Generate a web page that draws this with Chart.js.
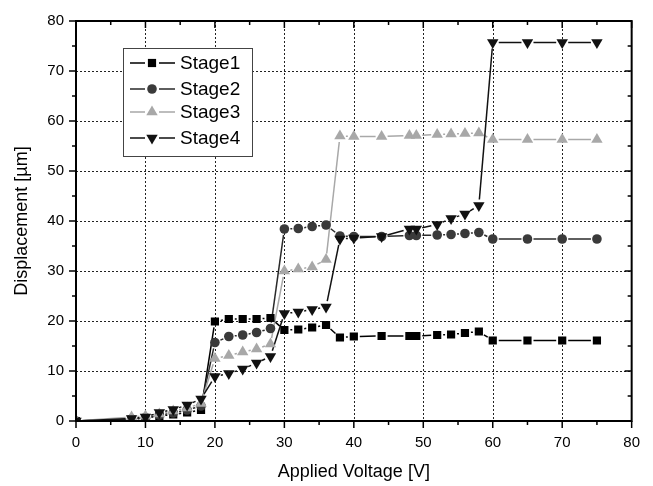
<!DOCTYPE html>
<html>
<head>
<meta charset="utf-8">
<script src="https://cdn.jsdelivr.net/npm/chart.js@4.4.1/dist/chart.umd.min.js"></script>
<style>
  html, body { margin: 0; padding: 0; background: #fff; }
  #wrap { width: 653px; height: 486px; }
</style>
</head>
<body>
<div id="wrap"><canvas id="c"></canvas></div>
<script>
// values
const voltages = [0, 8, 10, 12, 14, 16, 18, 20, 22, 24, 26, 28, 30, 32, 34, 36, 38, 40, 44, 48, 49, 52, 54, 56, 58, 60, 65, 70, 75];
const stage1 = [0, 0.3, 0.6, 1.0, 1.3, 1.7, 2.2, 19.9, 20.4, 20.4, 20.4, 20.6, 18.2, 18.3, 18.7, 19.2, 16.7, 16.9, 17.0, 17.0, 17.0, 17.2, 17.3, 17.6, 17.9, 16.1, 16.1, 16.1, 16.1];
const stage2 = [0, 0.4, 0.7, 1.2, 1.6, 2.2, 3.0, 15.7, 16.9, 17.2, 17.7, 18.5, 38.4, 38.5, 38.9, 39.2, 37.0, 36.9, 36.9, 37.1, 37.1, 37.2, 37.3, 37.5, 37.7, 36.4, 36.4, 36.4, 36.4];
const stage3 = [0, 0.8, 1.0, 1.4, 2.0, 2.6, 3.5, 12.5, 13.1, 13.8, 14.4, 15.4, 30.0, 30.4, 30.8, 32.3, 57.0, 56.9, 56.9, 57.1, 57.1, 57.3, 57.4, 57.5, 57.6, 56.3, 56.3, 56.3, 56.3];
const stage4 = [0, 0.5, 0.8, 1.7, 2.3, 3.2, 4.4, 8.9, 9.5, 10.4, 11.6, 12.9, 21.5, 21.8, 22.3, 22.8, 36.4, 36.6, 36.9, 38.4, 38.4, 39.3, 40.5, 41.4, 43.1, 75.7, 75.7, 75.7, 75.7];

const stageNames = ["Stage1", "Stage2", "Stage3", "Stage4"];
const xTicks = [0, 10, 20, 30, 40, 50, 60, 70, 80];
const yTicks = [0, 10, 20, 30, 40, 50, 60, 70, 80];

const styles = [
  { color: "#000000", line: "#000000", shape: "rect", rot: 0, r: 5.8 },
  { color: "#3a3a3a", line: "#2a2a2a", shape: "circle", rot: 0, r: 4.8 },
  { color: "#a8a8a8", line: "#a8a8a8", shape: "triangle", rot: 0, r: 6.6 },
  { color: "#111111", line: "#111111", shape: "triangle", rot: 180, r: 6.6 },
];

const allStages = [stage1, stage2, stage3, stage4];
const FONT = "'Liberation Sans', Arial, sans-serif";

function drawMarker(ctx, s, x, y) {
  ctx.save();
  ctx.fillStyle = s.color;
  ctx.beginPath();
  if (s.shape === "rect") {
    const h = s.r * Math.SQRT1_2;
    ctx.rect(x - h, y - h, 2 * h, 2 * h);
  } else if (s.shape === "circle") {
    ctx.arc(x, y, s.r, 0, Math.PI * 2);
  } else {
    const a = s.rot * Math.PI / 180;
    for (let k = 0; k < 3; k++) {
      const t = a + k * 2 * Math.PI / 3;
      const px = x + Math.sin(t) * s.r, py = y - Math.cos(t) * s.r;
      k === 0 ? ctx.moveTo(px, py) : ctx.lineTo(px, py);
    }
    ctx.closePath();
  }
  ctx.fill();
  ctx.restore();
}

const framePlugin = {
  id: "frame",
  beforeDatasetsDraw(chart) {
    const { ctx, chartArea: a, scales } = chart;
    // dotted grid
    ctx.save();
    ctx.strokeStyle = "#222";
    ctx.lineWidth = 1;
    ctx.setLineDash([2, 2]);
    xTicks.slice(1, -1).forEach((v) => {
      const x = Math.round(scales.x.getPixelForValue(v)) + 0.5;
      ctx.beginPath(); ctx.moveTo(x, a.top); ctx.lineTo(x, a.bottom); ctx.stroke();
    });
    yTicks.slice(1, -1).forEach((v) => {
      const y = Math.round(scales.y.getPixelForValue(v)) + 0.5;
      ctx.beginPath(); ctx.moveTo(a.left, y); ctx.lineTo(a.right, y); ctx.stroke();
    });
    ctx.restore();

    // connecting lines with a gap around every marker
    const gap = 6;
    chart.data.datasets.forEach((ds, i) => {
      const meta = chart.getDatasetMeta(i);
      ctx.save();
      ctx.strokeStyle = styles[i].line;
      ctx.lineWidth = 1.5;
      for (let k = 1; k < meta.data.length; k++) {
        const p0 = meta.data[k - 1], p1 = meta.data[k];
        const dx = p1.x - p0.x, dy = p1.y - p0.y;
        const d = Math.hypot(dx, dy);
        if (d <= 2 * gap) continue;
        const ux = dx / d, uy = dy / d;
        ctx.beginPath();
        ctx.moveTo(p0.x + ux * gap, p0.y + uy * gap);
        ctx.lineTo(p1.x - ux * gap, p1.y - uy * gap);
        ctx.stroke();
      }
      ctx.restore();
    });
  },
  afterDraw(chart) {
    const { ctx, chartArea: a, scales } = chart;
    ctx.save();
    ctx.strokeStyle = "#000";
    ctx.lineWidth = 2;
    ctx.strokeRect(a.left, a.top, a.right - a.left, a.bottom - a.top);
    ctx.lineWidth = 1.5;
    for (let v = 0; v <= 80; v += 5) {
      const len = v % 10 === 0 ? 7 : 4;
      const x = scales.x.getPixelForValue(v);
      ctx.beginPath();
      ctx.moveTo(x, a.bottom); ctx.lineTo(x, a.bottom + len);
      ctx.moveTo(x, a.top); ctx.lineTo(x, a.top + len);
      ctx.stroke();
      const y = scales.y.getPixelForValue(v);
      ctx.beginPath();
      ctx.moveTo(a.left, y); ctx.lineTo(a.left - len, y);
      ctx.moveTo(a.right, y); ctx.lineTo(a.right - len, y);
      ctx.stroke();
    }

    // axis titles
    ctx.fillStyle = "#000";
    ctx.font = "18px " + FONT;
    ctx.textAlign = "center";
    ctx.textBaseline = "middle";
    ctx.fillText("Applied Voltage [V]", (a.left + a.right) / 2, 472);
    ctx.save();
    ctx.translate(22, (a.top + a.bottom) / 2);
    ctx.rotate(-Math.PI / 2);
    ctx.fillText("Displacement [µm]", 0, 0);
    ctx.restore();

    // legend box
    const bx = 123, by = 48, bw = 129, bh = 108;
    ctx.fillStyle = "#fff";
    ctx.fillRect(bx, by, bw, bh);
    ctx.strokeStyle = "#444";
    ctx.lineWidth = 1;
    ctx.strokeRect(bx + 0.5, by + 0.5, bw, bh);
    const rows = [63, 89, 112, 138];
    stageNames.forEach((name, i) => {
      const y = rows[i];
      ctx.strokeStyle = styles[i].line;
      ctx.lineWidth = 1.5;
      ctx.beginPath();
      ctx.moveTo(130, y); ctx.lineTo(145, y);
      ctx.moveTo(159, y); ctx.lineTo(175, y);
      ctx.stroke();
      drawMarker(ctx, styles[i], 152, y);
      ctx.fillStyle = "#000";
      ctx.font = "19px " + FONT;
      ctx.textAlign = "left";
      ctx.textBaseline = "middle";
      ctx.fillText(name, 180, y + 1);
    });
    ctx.restore();
  },
};

const datasets = allStages.map((vals, i) => ({
  label: stageNames[i],
  data: voltages.map((v, k) => ({ x: v, y: vals[k] })),
  showLine: false,
  pointStyle: styles[i].shape,
  rotation: styles[i].rot,
  pointRadius: styles[i].r,
  pointHoverRadius: styles[i].r,
  pointBackgroundColor: styles[i].color,
  pointBorderWidth: 0,
  borderColor: styles[i].line,
  order: 4 - i,
}));

new Chart(document.getElementById("c"), {
  type: "scatter",
  data: { datasets },
  options: {
    responsive: true,
    maintainAspectRatio: false,
    animation: false,
    layout: { padding: { top: 13, right: 20, left: 0, bottom: 0 } },
    plugins: { legend: { display: false }, tooltip: { enabled: false } },
    scales: {
      x: {
        type: "linear",
        min: 0, max: 80,
        afterFit: (s) => { s.height = 65; },
        afterBuildTicks: (s) => { s.ticks = xTicks.map((v) => ({ value: v })); },
        grid: { display: false, drawTicks: false },
        border: { display: false },
        ticks: { padding: 13, color: "#000", font: { family: FONT, size: 15 } },
      },
      y: {
        type: "linear",
        min: 0, max: 80,
        afterFit: (s) => { s.width = 76; },
        afterBuildTicks: (s) => { s.ticks = yTicks.map((v) => ({ value: v })); },
        grid: { display: false, drawTicks: false },
        border: { display: false },
        ticks: { padding: 12, color: "#000", font: { family: FONT, size: 15 } },
      },
    },
  },
  plugins: [framePlugin],
});
</script>
</body>
</html>
